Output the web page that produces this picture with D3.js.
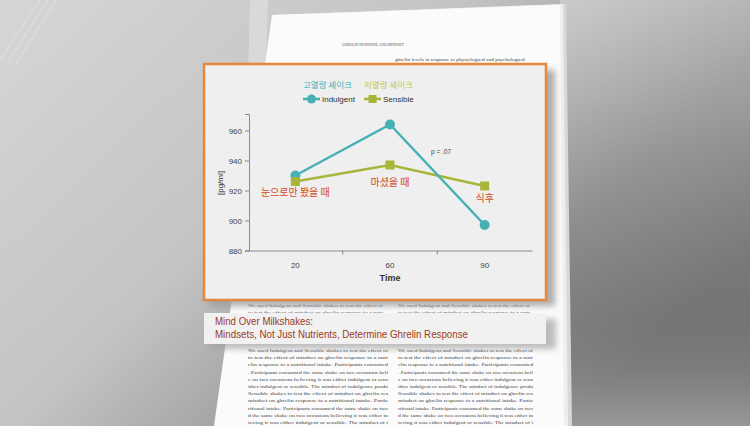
<!DOCTYPE html>
<html><head><meta charset="utf-8">
<script src="https://cdn.jsdelivr.net/npm/d3@7"></script>
<style>
html,body{margin:0;padding:0;width:750px;height:426px;overflow:hidden;background:#aaa;}
svg{display:block;}
</style></head>
<body>
<svg id="c" width="750" height="426"></svg>
<script>
// ---- data ----
const times = ["20", "60", "90"];
const indulgent = [930, 964, 897];
const sensible = [926, 937, 923];
const yTicks = [880, 900, 920, 940, 960];
const seriesNames = ["Indulgent", "Sensible"];
const seriesKorean = ["고열량 셰이크", "저열량 셰이크"];
const pointLabels = ["눈으로만 봤을 때", "마셨을 때", "식후"];
const pNote = "p = .07";
const yTitle = "[pg/ml]";
const xTitle = "Time";
const captionLines = ["Mind Over Milkshakes:", "Mindsets, Not Just Nutrients, Determine Ghrelin Response"];

const svg = d3.select("#c");
const defs = svg.append("defs");

// background gradient
const bg = defs.append("linearGradient").attr("id","bg").attr("x1","0").attr("y1","0").attr("x2","1").attr("y2","0.6");
bg.append("stop").attr("offset","0").attr("stop-color","#d6d6d6");
bg.append("stop").attr("offset","0.45").attr("stop-color","#c4c4c4");
bg.append("stop").attr("offset","0.8").attr("stop-color","#8e8e8e");
bg.append("stop").attr("offset","1").attr("stop-color","#7c7c7c");
svg.append("rect").attr("width",750).attr("height",426).attr("fill","url(#bg)");
const bg2 = defs.append("linearGradient").attr("id","bg2").attr("x1","0").attr("y1","0").attr("x2","0").attr("y2","1");
bg2.append("stop").attr("offset","0").attr("stop-color","#ffffff").attr("stop-opacity",0.3);
bg2.append("stop").attr("offset","0.35").attr("stop-color","#ffffff").attr("stop-opacity",0.08);
bg2.append("stop").attr("offset","0.72").attr("stop-color","#000000").attr("stop-opacity",0.06);
bg2.append("stop").attr("offset","1").attr("stop-color","#ffffff").attr("stop-opacity",0.22);
svg.append("rect").attr("x",560).attr("width",190).attr("height",426).attr("fill","url(#bg2)");

// left decoration: faint diagonal lines & light strip
[[0,60,40,0],[8,62,48,0],[16,64,56,0]].forEach(d=>{
  svg.append("line").attr("x1",d[0]).attr("y1",d[1]).attr("x2",d[2]).attr("y2",d[3])
    .attr("stroke","#e6e6e6").attr("stroke-width",1).attr("opacity",0.7);
});
svg.append("path").attr("d","M250,0 L268,0 L262,230 L244,230 Z").attr("fill","#dcdcdc").attr("opacity",0.8);

// shadow filter
const f = defs.append("filter").attr("id","blur").attr("x","-20%").attr("y","-20%").attr("width","140%").attr("height","140%");
f.append("feGaussianBlur").attr("stdDeviation",3);

// paper stack
svg.append("path").attr("d","M275,16 L566,4 L572,426 L216,426 Z").attr("fill","#d8d8d8");
svg.append("path").attr("d","M273,15 L563,4 L568,426 L215,426 Z").attr("fill","#eeeeee");
svg.append("path").attr("d","M272,15 L560,5 L564,426 L214,426 Z").attr("fill","#fbfbfb");

// faint paper text
const paperText = "We used Indulgent and Sensible shakes to test the effect of mindset on ghrelin response to a nutritional intake. Participants consumed the same shake on two occasions believing it was either indulgent or sensible. The mindset of indulgence produced a dramatically steeper decline in ghrelin after consuming the shake whereas the mindset of sensibility produced a relatively flat ghrelin response.";
function textLines(x, y, n, w, size, col){
  for(let i=0;i<n;i++){
    const start = (i*37)%200;
    svg.append("text").attr("x",x).attr("y",y+i*7.2)
      .attr("font-family","Liberation Serif").attr("font-size",size).attr("fill",col)
      .attr("textLength",w).attr("lengthAdjust","spacingAndGlyphs")
      .text(paperText.slice(start, start+60));
  }
}
svg.append("text").attr("x",342).attr("y",46).attr("font-family","Liberation Serif").attr("font-size",5).attr("fill","#555")
  .attr("textLength",62).attr("lengthAdjust","spacingAndGlyphs").text("GHRELIN RESPONSE AND MINDSET");
svg.append("text").attr("x",395).attr("y",61).attr("font-family","Liberation Serif").attr("font-size",5).attr("fill","#444")
  .attr("textLength",130).attr("lengthAdjust","spacingAndGlyphs").text("ghrelin levels in response to physiological and psychological");
textLines(248, 307, 2, 135, 5, "#555");
textLines(398, 307, 2, 132, 5, "#555");
textLines(248, 352, 11, 140, 5, "#444");
textLines(398, 352, 11, 135, 5, "#444");

// panel shadow
svg.append("rect").attr("x",209).attr("y",70).attr("width",346).attr("height",236).attr("fill","#9a9a9a").attr("filter","url(#blur)").attr("opacity",0.8);
// caption box
svg.append("rect").attr("x",210).attr("y",319).attr("width",346).attr("height",30).attr("fill","#a0a0a0").attr("filter","url(#blur)").attr("opacity",0.7);
svg.append("rect").attr("x",204).attr("y",313).attr("width",342).attr("height",31).attr("fill","#f1f1f1");
const capLen = [98, 253];
captionLines.forEach((t,i)=>{
  svg.append("text").attr("x",215).attr("y",324.5+i*13.5).attr("font-family","Liberation Sans")
    .attr("font-size",10).attr("fill","#9b3b22")
    .attr("textLength",capLen[i]).attr("lengthAdjust","spacingAndGlyphs").text(t);
});

// panel
svg.append("rect").attr("x",204).attr("y",64).attr("width",342).attr("height",236)
  .attr("fill","#efefef").attr("stroke","#e4873f").attr("stroke-width",2.5);

// scales
const x = d3.scaleBand().domain(times).range([248, 532]);
const y = d3.scaleLinear().domain([880, 971]).range([250.5, 114]);

// axes
const yAxis = d3.axisLeft(y).tickValues(yTicks).tickSize(4).tickFormat(d3.format("d"));
const gy = svg.append("g").attr("transform","translate(249,0)").call(yAxis);
gy.select(".domain").attr("stroke","#8a8a8a");
gy.selectAll(".tick line").attr("stroke","#8a8a8a");
gy.selectAll(".tick text").attr("font-family","Liberation Sans").attr("font-size",8).attr("fill","#444").attr("x",-7);

const xAxis = d3.axisBottom(x).tickSize(0).tickPadding(12);
const gx = svg.append("g").attr("transform","translate(0,250.5)").call(xAxis);
gx.select(".domain").attr("stroke","#8a8a8a");
gx.selectAll(".tick text").attr("font-family","Liberation Sans").attr("font-size",8).attr("fill","#444");
// boundary tick marks
gx.selectAll(".bnd").data(times.slice(1)).enter().append("line")
  .attr("x1",d=>x(d)).attr("x2",d=>x(d)).attr("y1",0).attr("y2",4).attr("stroke","#8a8a8a");

svg.append("text").attr("x", x("60")+x.bandwidth()/2).attr("y",281).attr("text-anchor","middle")
  .attr("font-family","Liberation Sans").attr("font-weight","bold").attr("font-size",9).attr("fill","#333").text(xTitle);
svg.append("text").attr("transform","translate(223,183) rotate(-90)").attr("text-anchor","middle")
  .attr("font-family","Liberation Sans").attr("font-size",8).attr("fill","#333").text(yTitle);

const cx = d => x(d) + x.bandwidth()/2;
const teal = "#47b0b5", olive = "#a9b53a";
const line = d3.line().x((d,i)=>cx(times[i])).y(d=>y(d));

// sensible
svg.append("path").attr("d", line(sensible)).attr("fill","none").attr("stroke",olive).attr("stroke-width",2.6);
// indulgent
svg.append("path").attr("d", line(indulgent)).attr("fill","none").attr("stroke",teal).attr("stroke-width",2.4);
svg.selectAll(".ci").data(indulgent).enter().append("circle")
  .attr("cx",(d,i)=>cx(times[i])).attr("cy",d=>y(d)).attr("r",5).attr("fill",teal);
svg.selectAll(".sq").data(sensible).enter().append("rect")
  .attr("x",(d,i)=>cx(times[i])-4.5).attr("y",d=>y(d)-4.5).attr("width",9).attr("height",9).attr("fill",olive);

// point labels (korean)
pointLabels.forEach((t,i)=>{
  svg.append("text").attr("x", cx(times[i])).attr("y", [196, 186, 202][i] ).attr("text-anchor","middle")
    .attr("font-family","Noto Sans CJK KR").attr("font-size",10).attr("fill","#cf4f2c")
    .attr("stroke","#f6e3dc").attr("stroke-width",0.6).attr("paint-order","stroke").text(t);
});

// p note
svg.append("text").attr("x",431).attr("y",154).attr("font-family","Liberation Sans").attr("font-size",6.5).attr("fill","#444").text(pNote);

// legend
const legX = [303, 364];
const legCol = [teal, olive];
seriesKorean.forEach((t,i)=>{
  svg.append("text").attr("x",legX[i]).attr("y",88).attr("font-family","Noto Sans CJK KR").attr("font-size",8.5)
    .attr("fill", i===0 ? "#3fb0b6" : "#c1c84a").text(t);
  const lx = legX[i];
  svg.append("line").attr("x1",lx).attr("x2",lx+17).attr("y1",99).attr("y2",99).attr("stroke",legCol[i]).attr("stroke-width",2.5);
  if(i===0) svg.append("circle").attr("cx",lx+8.5).attr("cy",99).attr("r",4.5).attr("fill",teal);
  else svg.append("rect").attr("x",lx+4.5).attr("y",95).attr("width",8).attr("height",8).attr("fill",olive);
  svg.append("text").attr("x",lx+19).attr("y",102).attr("font-family","Liberation Sans").attr("font-size",8)
    .attr("fill","#333").text(seriesNames[i]);
});
</script>
</body></html>
